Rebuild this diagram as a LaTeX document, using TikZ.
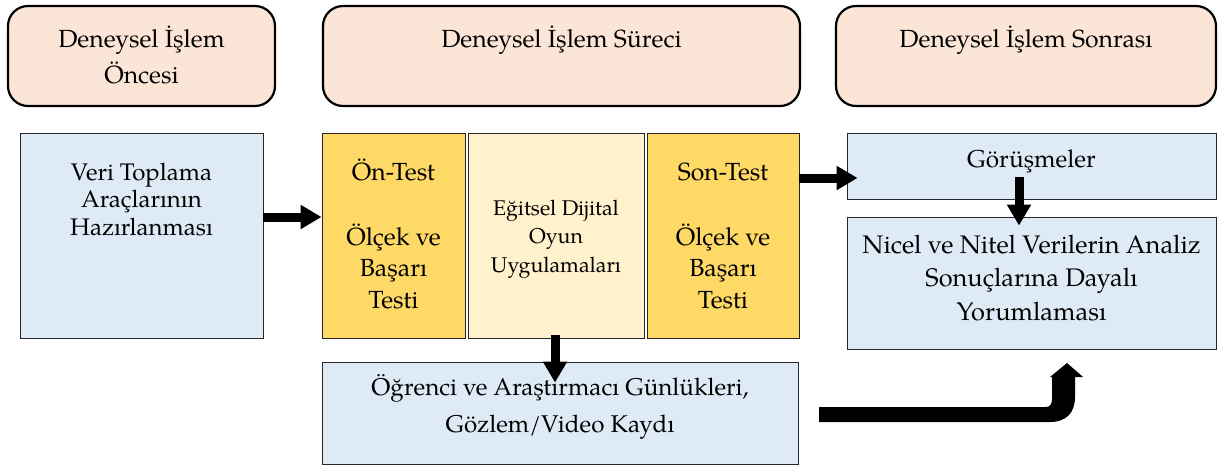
\documentclass[tikz,border=0pt]{standalone}
\usepackage{fontspec}
\setmainfont{TeX Gyre Pagella}
\usetikzlibrary{arrows.meta}
\definecolor{peach}{HTML}{FBE5D6}
\definecolor{lblue}{HTML}{DEEBF7}
\definecolor{gold}{HTML}{FFD966}
\definecolor{lyellow}{HTML}{FFF2CC}
\begin{document}
\begin{tikzpicture}[x=1pt,y=-1pt,
  phase/.style={draw=black, line width=2.2pt, rounded corners=20pt, fill=peach, inner sep=0pt},
  box/.style={draw=black!85, line width=0.9pt, inner sep=0pt},
  txt/.style={align=center, anchor=base, inner sep=0pt},
  fs/.style 2 args={font=\fontsize{#1}{#2}\selectfont},
  arr/.style={line width=9pt, -{Triangle[width=23pt,length=21pt]}}
]
\useasboundingbox (0,0) rectangle (1219,467);
% top phase boxes
\node[phase, minimum width=267pt, minimum height=100pt] (p1) at (141.5,56) {};
\node[phase, minimum width=477pt, minimum height=100pt] (p2) at (561.5,56) {};
\node[phase, minimum width=380pt, minimum height=100pt] (p3) at (1026,56) {};
% middle boxes
\node[box, fill=lblue, minimum width=243pt, minimum height=205pt] (veri) at (141.5,235.5) {};
\node[box, fill=gold, minimum width=143pt, minimum height=205pt] (on) at (393.5,235.5) {};
\node[box, fill=lyellow, minimum width=176pt, minimum height=205pt] (egit) at (556,235.5) {};
\node[box, fill=gold, minimum width=152pt, minimum height=205pt] (son) at (723,235.5) {};
\node[box, fill=lblue, minimum width=369pt, minimum height=66pt] (gor) at (1031.5,166) {};
\node[box, fill=lblue, minimum width=369pt, minimum height=132pt] (nicel) at (1031.5,283) {};
\node[box, fill=lblue, minimum width=476pt, minimum height=102pt] (ogr) at (560,413) {};
% texts (anchor = baseline of the last line)
\node[txt, fs={24.8}{36}] (t1) at (141.5,83) {Deneysel İşlem\\Öncesi};
\node[txt, fs={24.8}{36}] (t2) at (561.5,47) {Deneysel İşlem Süreci};
\node[txt, fs={24.8}{36}] (t3) at (1026,47) {Deneysel İşlem Sonrası};
\node[txt, fs={24}{27.5}] (tveri) at (141.5,235) {Veri Toplama\\Araçlarının\\Hazırlanması};
\node[txt, fs={24.8}{31.5}] (ton) at (393.5,308) {Ön-Test\\[33pt]Ölçek ve\\Başarı\\Testi};
\node[txt, fs={21.3}{28.5}] (tegit) at (556,272) {Eğitsel Dijital\\Oyun\\Uygulamaları};
\node[txt, fs={24.8}{31.5}] (tson) at (723,308) {Son-Test\\[33pt]Ölçek ve\\Başarı\\Testi};
\node[txt, fs={24.4}{33.5}] (tgor) at (1031.5,167) {Görüşmeler};
\node[txt, fs={25.4}{33.5}] (tnicel) at (1031.5,320) {Nicel ve Nitel Verilerin Analiz\\Sonuçlarına Dayalı\\Yorumlaması};
\node[txt, fs={24.2}{37}] (togr) at (560,432) {Öğrenci ve Araştırmacı Günlükleri,\\Gözlem/Video Kaydı};
% connectors
\draw[arr] ([yshift=18.5pt]veri.east) -- ([yshift=18.5pt]on.west);
\draw[arr] ([yshift=57.5pt]son.east) -- ([xshift=11pt,yshift=-12pt]gor.west);
\draw[arr] ([xshift=-12.5pt,yshift=22pt]gor.south) -- ([xshift=-12.5pt,yshift=-9pt]nicel.north);
\draw[arr] ([xshift=-1pt,yshift=3pt]egit.south) -- ([xshift=-5pt,yshift=-21pt]ogr.north);
% bent-up arrow
\fill (819,407) -- (1046,407) .. controls (1050,407) and (1052,404) .. (1052,399)
  -- (1052,377) -- (1050,377) -- (1067,363) -- (1083,377) -- (1075,377) -- (1075,397)
  .. controls (1075,413) and (1066,422) .. (1050,422) -- (819,422) -- cycle;
\end{tikzpicture}
\end{document}
